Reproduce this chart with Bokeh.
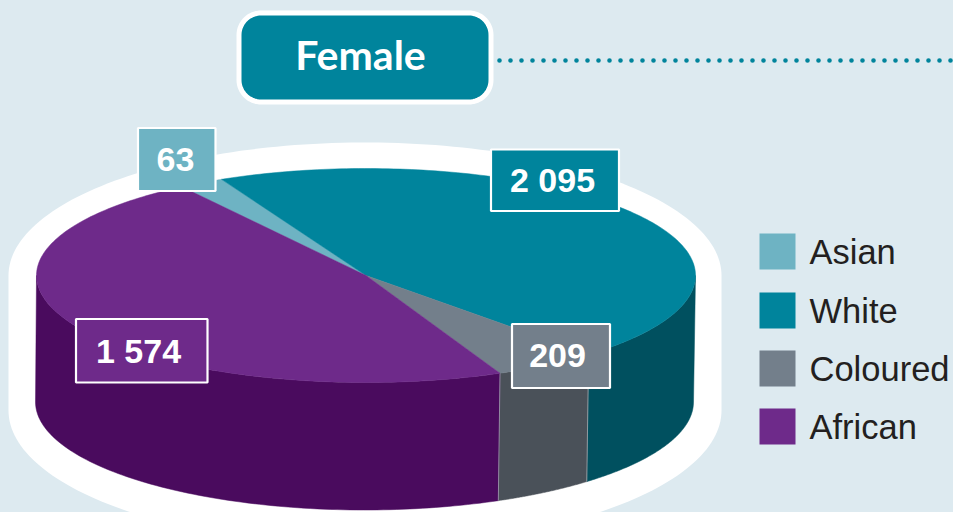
import numpy as np
from bokeh.core.properties import value
from bokeh.embed import file_html
from bokeh.models import Range1d
from bokeh.plotting import figure
from bokeh.resources import INLINE

# Data as printed in the chart
categories = ["Asian", "White", "Coloured", "African"]
printed_labels = ["63", "2 095", "209", "1 574"]
# Slice widths in degrees (the drawn slices are not proportional to the printed numbers)
slice_degrees = [8, 163.5, 18.5, 170]
first_slice_start = 326

top_colors = ["#6EB3C3", "#00849C", "#737F8B", "#6E2A8A"]
wall_colors = ["#3E6E7A", "#00505F", "#4A5159", "#4A0B5E"]
BG = "#DDEAF0"

W, H = 953, 512
p = figure(width=W, height=H, output_backend="svg", toolbar_location=None,
           x_range=Range1d(0, W), y_range=Range1d(H, 0),
           min_border=0, background_fill_color=BG, border_fill_color=BG,
           outline_line_color=None)
p.axis.visible = False
p.grid.visible = False

# Disc geometry
CX, CY, RX, RY = 365.5, 275.0, 329.5, 107.0
BX, BY, BRX, BRY = 364.0, 401.5, 329.0, 108.0


def ell(a, cx, cy, rx, ry):
    t = np.radians(a)
    return cx + rx * np.sin(t), cy - ry * np.cos(t)


# White backing
a1 = np.linspace(-90, 90, 120)
a2 = np.linspace(90, 270, 120)
x1, y1 = ell(a1, 364.5, 275, 356.5, 133)
x2, y2 = ell(a2, 364.5, 410, 356.5, 135)
p.patch(np.r_[x1, x2], np.r_[y1, y2], fill_color="white", line_color=None)

# Slices
starts = first_slice_start + np.r_[0, np.cumsum(slice_degrees)[:-1]]
ends = starts + np.array(slice_degrees)

# Walls
for s, e, c in zip(starts, ends, wall_colors):
    for off in (0, 360):
        lo, hi = max(s - off, 90), min(e - off, 270)
        if hi > lo:
            a = np.linspace(lo, hi, 100)
            tx, ty = ell(a, CX, CY, RX, RY)
            bx, by = ell(a[::-1], BX, BY, BRX, BRY)
            p.patch(np.r_[tx, bx], np.r_[ty, by], fill_color=c, line_color=c, line_width=0.5)
            if lo > 90:
                tx0, ty0 = ell(lo, CX, CY, RX, RY)
                bx0, by0 = ell(lo, BX, BY, BRX, BRY)
                p.line([tx0, bx0], [ty0, by0], line_color="#AEB6BC", line_width=0.7)

# Top faces
for s, e, c in zip(starts, ends, top_colors):
    a = np.linspace(s, e, 160)
    tx, ty = ell(a, CX, CY, RX, RY)
    p.patch(np.r_[CX, tx], np.r_[CY, ty], fill_color=c, line_color=c, line_width=0.5)

# Value labels
boxes = [(137.5, 215, 127.5, 190.5), (490.5, 618.5, 149, 210.5), (511.5, 609.5, 323.5, 387.5), (75.5, 207, 318.5, 382)]
label_x = [175, 552, 557, 138]
label_y = [158.5, 179, 355, 350.5]
for (l, r, t, b), c, txt, tx_, ty_ in zip(boxes, top_colors, printed_labels, label_x, label_y):
    p.quad(left=l, right=r, top=t, bottom=b, fill_color=c, line_color="white", line_width=2.2)
    p.text([tx_], [ty_], text=[txt], text_color="white", text_align="center",
           text_baseline="middle", text_font=value("Liberation Sans"), text_font_style="bold",
           text_font_size="34px")

# Header box
l, r, t, b, rad = 238.5, 490.5, 12.5, 101.5, 22
ca = np.linspace(0, 90, 16)
hx = np.r_[r - rad + rad * np.sin(np.radians(ca)), r - rad + rad * np.cos(np.radians(ca)),
           l + rad - rad * np.sin(np.radians(ca)), l + rad - rad * np.cos(np.radians(ca))]
hy = np.r_[t + rad - rad * np.cos(np.radians(ca)), b - rad + rad * np.sin(np.radians(ca)),
           b - rad + rad * np.cos(np.radians(ca)), t + rad - rad * np.sin(np.radians(ca))]
p.patch(hx, hy, fill_color="#00849C", line_color="white", line_width=5)
p.text([360], [54], text=["Female"], text_color="white", text_align="center", text_baseline="middle",
       text_font=value("Lato"), text_font_style="bold", text_font_size="41px")
p.line([499, 953], [60, 60], line_color="#00849C", line_width=4.6, line_dash="0 11", line_cap="round")

# Legend
legend_tops = [233, 292, 350, 408]
for y, c, name in zip(legend_tops, top_colors, categories):
    p.quad(left=759, right=795, top=y, bottom=y + 36, fill_color=c, line_color=None)
    p.text([809], [y + 18], text=[name], text_color="#231F20", text_align="left", text_baseline="middle",
           text_font=value("Liberation Sans"), text_font_size="34.5px")

html = file_html(p, INLINE)
html = html.replace("<head>", "<head><style>html,body{margin:0;padding:0;overflow:hidden;background:#DDEAF0}</style>", 1)
open("out.html", "w").write(html)
